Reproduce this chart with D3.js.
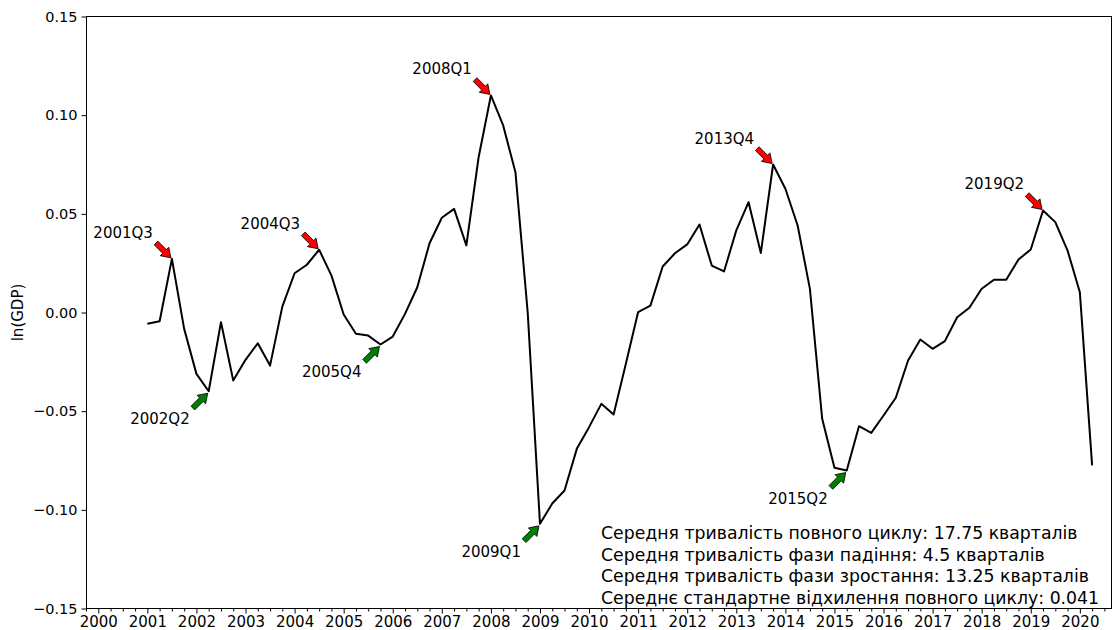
<!DOCTYPE html>
<html>
<head>
<meta charset="utf-8">
<script src="https://cdn.jsdelivr.net/npm/d3@7"></script>
<style>
  body { margin: 0; background: #fff; }
  text { font-family: "DejaVu Sans", sans-serif; fill: #000; }
</style>
</head>
<body>
<script>
// ---- data ----
const startYear = 2001;
const gdp = [
  -0.0057, -0.0044, 0.0272, -0.0083,
  -0.0311, -0.0399, -0.0049, -0.0345,
  -0.0240, -0.0156, -0.0269, 0.0030,
  0.0199, 0.0242, 0.0318, 0.0188,
  -0.0010, -0.0108, -0.0117, -0.0162,
  -0.0122, -0.0007, 0.0128, 0.0351,
  0.0480, 0.0525, 0.0340, 0.0787,
  0.1100, 0.0948, 0.0711, 0.0000,
  -0.1071, -0.0968, -0.0902, -0.0691,
  -0.0581, -0.0463, -0.0517, -0.0260,
  0.0002, 0.0035, 0.0233, 0.0300,
  0.0345, 0.0446, 0.0238, 0.0208,
  0.0416, 0.0559, 0.0302, 0.0750,
  0.0627, 0.0441, 0.0120, -0.0539,
  -0.0787, -0.0801, -0.0576, -0.0610,
  -0.0522, -0.0432, -0.0243, -0.0137,
  -0.0184, -0.0145, -0.0024, 0.0024,
  0.0120, 0.0166, 0.0166, 0.0269,
  0.0319, 0.0517, 0.0458, 0.0314,
  0.0103, -0.0775
];
const peaks = ["2001Q3", "2004Q3", "2008Q1", "2013Q4", "2019Q2"];
const troughs = ["2002Q2", "2005Q4", "2009Q1", "2015Q2"];
const yTicks = [-0.15, -0.10, -0.05, 0.00, 0.05, 0.10, 0.15];
const xYears = d3.range(2000, 2021);
const yLabel = "ln(GDP)";
const statsLines = [
  "Середня тривалість повного циклу: 17.75 кварталів",
  "Середня тривалість фази падіння: 4.5 кварталів",
  "Середня тривалість фази зростання: 13.25 кварталів",
  "Середнє стандартне відхилення повного циклу: 0.041"
];

// ---- derived ----
const data = gdp.map((v, i) => {
  const yr = startYear + Math.floor(i / 4), q = (i % 4) + 1;
  return { label: yr + "Q" + q, t: yr + (q - 1) / 4, v };
});
const byLabel = new Map(data.map(d => [d.label, d]));

const W = 1114, H = 630;
const L = 86.5, R = 1111.5, T = 16.5, B = 608.5;

const x = d3.scaleLinear().domain([1999.76, 2020.645]).range([L, R]);
const y = d3.scaleLinear().domain([-0.15, 0.15]).range([B, T]);

const svg = d3.select("body").append("svg").attr("width", W).attr("height", H);

// axes
const yAxis = d3.axisLeft(y).tickValues(yTicks).tickFormat(d3.format(".2f")).tickSize(5).tickPadding(4);
const gy = svg.append("g").attr("transform", `translate(${L},0)`).call(yAxis);
gy.select(".domain").remove();
gy.selectAll("text").style("font-size", "14.5px").style("font-family", "DejaVu Sans");

const quarterTicks = d3.range(0, 84).map(i => 1999.75 + i / 4).filter(t => t <= 2020.6 && !Number.isInteger(t));
const xMinor = d3.axisBottom(x).tickValues(quarterTicks).tickFormat("").tickSize(3);
const gxm = svg.append("g").attr("transform", `translate(0,${B})`).call(xMinor);
gxm.select(".domain").remove();

const xAxis = d3.axisBottom(x).tickValues(xYears).tickFormat(d3.format("d")).tickSize(5).tickPadding(3);
const gx = svg.append("g").attr("transform", `translate(0,${B})`).call(xAxis);
gx.select(".domain").remove();
gx.selectAll("text").style("font-size", "15px").style("font-family", "DejaVu Sans");

// frame
svg.append("rect").attr("x", L).attr("y", T).attr("width", R - L).attr("height", B - T)
  .attr("fill", "none").attr("stroke", "#000").attr("stroke-width", 1);

// y label
svg.append("text").attr("transform", `translate(23,${(T + B) / 2}) rotate(-90)`)
  .attr("text-anchor", "middle").style("font-size", "15px").text(yLabel);

// line
const line = d3.line().x(d => x(d.t)).y(d => y(d.v));
svg.append("path").datum(data).attr("d", line)
  .attr("fill", "none").attr("stroke", "#000").attr("stroke-width", 2)
  .attr("stroke-linejoin", "round");

// arrows
function arrowPoly() {
  const Ln = 21, hl = 9, hw = 6, bw = 2.6;
  return [[-Ln, -bw], [-hl, -bw], [-hl, -hw], [0, 0], [-hl, hw], [-hl, bw], [-Ln, bw]]
    .map(p => p.join(",")).join(" ");
}
function annotate(label, isPeak) {
  const d = byLabel.get(label);
  const px = x(d.t), py = y(d.v);
  const tipX = px - 1, tipY = isPeak ? py - 1 : py + 2;
  const ang = isPeak ? 45 : -45;
  svg.append("polygon").attr("points", arrowPoly())
    .attr("transform", `translate(${tipX},${tipY}) rotate(${ang})`)
    .attr("fill", isPeak ? "#ff0000" : "#008000").attr("stroke", "#000").attr("stroke-width", 0.8)
    .attr("stroke-linejoin", "miter");
  svg.append("text").attr("x", px - 19).attr("y", isPeak ? py - 21 : py + 33)
    .attr("text-anchor", "end").style("font-size", "15px").text(label);
}
peaks.forEach(p => annotate(p, true));
troughs.forEach(p => annotate(p, false));

// stats text
svg.append("g").selectAll("text").data(statsLines).join("text")
  .attr("x", 601).attr("y", (d, i) => 539 + i * 21.6)
  .style("font-size", "17.3px").text(d => d);
</script>
</body>
</html>
